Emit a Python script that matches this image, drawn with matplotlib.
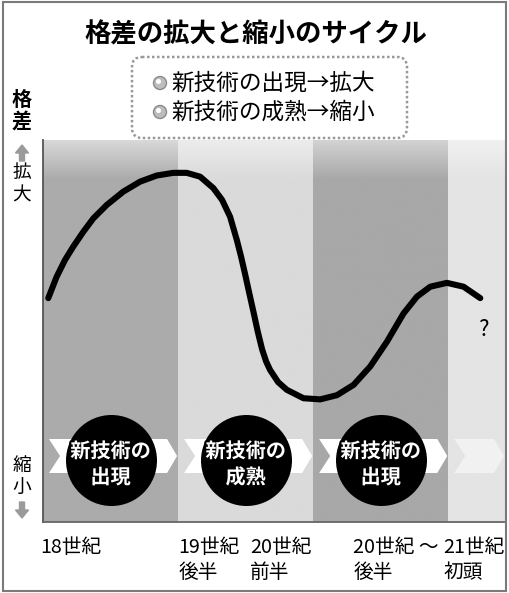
import numpy as np
import matplotlib
matplotlib.use("Agg")
import matplotlib.pyplot as plt
from matplotlib import patheffects
from matplotlib.patches import Polygon, FancyBboxPatch, Rectangle, Circle, FancyArrow

plt.rcParams['font.family'] = ['Noto Sans CJK JP', 'DejaVu Sans']

# datos
titulo = "格差の拡大と縮小のサイクル"
leyenda = ["新技術の出現→拡大", "新技術の成熟→縮小"]

# periodos (x en unidades de periodo)
bordes_periodos = [0, 1, 2, 3, 3.42]
colores_periodos = ['#ababab', '#dadada', '#a8a8a8', '#e4e4e4']
colores_arriba = ['#d8d8d8', '#ececec', '#d2d2d2', '#f0f0f0']
etiquetas_circulos = ["新技術の\n出現", "新技術の\n成熟", "新技術の\n出現"]

# curva del grado de desigualdad (0 = 縮小, 100 = 拡大)
curva_x = [0.039, 0.101, 0.163, 0.224, 0.299, 0.373, 0.472, 0.595, 0.719, 0.842,
           0.965, 1.064, 1.163, 1.261, 1.326, 1.385, 1.435, 1.466, 1.496, 1.527,
           1.558, 1.590, 1.622, 1.652, 1.681, 1.741, 1.805, 1.928, 2.052, 2.176,
           2.299, 2.422, 2.546, 2.669, 2.768, 2.867, 2.990, 3.113, 3.237]
curva_y = [58.6, 64.2, 68.6, 72.1, 76.0, 79.5, 83.0, 86.5, 89.1, 90.7,
           91.4, 91.4, 90.4, 87.4, 84.3, 79.9, 73.8, 69.5, 64.9, 59.9,
           55.0, 49.8, 45.2, 42.0, 39.8, 36.6, 34.6, 32.4, 32.1, 33.2,
           35.9, 40.7, 47.2, 54.6, 59.0, 61.6, 62.6, 61.6, 58.6]

# etiquetas del eje x
pos_etiquetas = [-0.02, 1.0, 1.533, 2.296, 2.963]
etiquetas_x = ["18世紀", "19世紀\n後半", "20世紀\n前半", "20世紀 ～\n後半", "21世紀\n初頭"]

W, H = 510, 593
fig = plt.figure(figsize=(W / 100, H / 100), dpi=100)
fig.patch.set_facecolor('white')

# area del grafico en pixeles
x0p, x1p, y0p, y1p = 43, 505, 140, 522
ax = fig.add_axes([x0p / W, 1 - y1p / H, (x1p - x0p) / W, (y1p - y0p) / H])
ax.set_xlim(bordes_periodos[0], bordes_periodos[-1])
ax.set_ylim(0, 100)
ax.set_xticks([])
ax.set_yticks([])
for s in ['top', 'right']:
    ax.spines[s].set_visible(False)
ax.spines['left'].set_color('#555555')
ax.spines['left'].set_linewidth(1.3)
ax.spines['bottom'].set_color('#666666')
ax.spines['bottom'].set_linewidth(1.3)

# bandas con degradado arriba
n = 200
for i in range(len(colores_periodos)):
    base = np.array(matplotlib.colors.to_rgb(colores_periodos[i]))
    top = np.array(matplotlib.colors.to_rgb(colores_arriba[i]))
    t = np.linspace(0, 1, n)
    w = np.clip((t - 0.90) / 0.10, 0, 1)[:, None]
    img = base * (1 - w) + top * w
    ax.imshow(img[:, None, :], extent=(bordes_periodos[i], bordes_periodos[i + 1], 0, 100),
              origin='lower', aspect='auto', zorder=0, interpolation='bilinear')

# flechas blancas (chevrones)
px_x = 1 / 135.0
px_y = 100 / 382.0
yc, hh = (y1p - 456) * px_y, 17 * px_y
for i in range(len(colores_periodos)):
    a, b = bordes_periodos[i], bordes_periodos[i + 1]
    cola = a + 6 * px_x
    muesca = cola + 11 * px_x
    punta = b - 1 * px_x
    cuerpo = punta - 10 * px_x
    verts = [(cola, yc + hh), (cuerpo, yc + hh), (punta, yc), (cuerpo, yc - hh),
             (cola, yc - hh), (muesca, yc)]
    alpha = 0.5 if i == 3 else 1.0
    ax.add_patch(Polygon(verts, closed=True, facecolor='white', edgecolor='none',
                         alpha=alpha, zorder=2))

# circulos negros
centros = [(bordes_periodos[i] + bordes_periodos[i + 1]) / 2 for i in range(3)]
yc_circ = (y1p - 460) * px_y
ax.scatter(centros, [yc_circ] * 3, s=(91 * 0.72) ** 2, color='black', zorder=3, linewidths=0)
for cx, txt in zip(centros, etiquetas_circulos):
    ax.text(cx, (y1p - 464) * px_y, txt, color='white', fontsize=14.5, fontweight='bold',
            ha='center', va='center', linespacing=1.3, zorder=4,
            path_effects=[patheffects.withStroke(linewidth=3, foreground='black')])

# curva
ax.plot(curva_x, curva_y, color='black', lw=4.4, solid_capstyle='round',
        solid_joinstyle='round', zorder=5)
ax.text(3.262, 50.5, "?", fontsize=16, ha='center', va='center', zorder=5)

# etiquetas del eje x
for xp, lab in zip(pos_etiquetas, etiquetas_x):
    ax.text(xp, -0.038, lab, transform=ax.get_xaxis_transform(), ha='left', va='top',
            fontsize=14.2, linespacing=1.3)

# capa superior en pixeles
ov = fig.add_axes([0, 0, 1, 1], zorder=10)
ov.set_xlim(0, W)
ov.set_ylim(H, 0)
ov.axis('off')
ov.patch.set_alpha(0)

ov.add_patch(Rectangle((3, 2), 503, 589, fill=False, edgecolor='#7a7a7a', lw=1.5))

ov.text(256, 35, titulo, fontsize=19, fontweight='bold', ha='center', va='center')

ov.add_patch(FancyBboxPatch((132, 57), 275, 81, boxstyle='round,pad=0,rounding_size=10',
                            facecolor='white', edgecolor='#999999', lw=1.8,
                            linestyle=(0, (1, 1))))
for k, txt in enumerate(leyenda):
    yy = 83 + 29 * k
    ov.add_patch(Circle((160, yy), 6.5, facecolor='#bdbdbd', edgecolor='#8a8a8a', lw=1))
    ov.add_patch(Circle((158.5, yy - 1.5), 2.5, facecolor='white', edgecolor='none'))
    ov.text(171, yy, txt, fontsize=16.3, ha='left', va='center')

# eje y
ov.text(22, 110, "格\n差", fontsize=14.5, fontweight='bold', ha='center', va='center',
        linespacing=1.05)
ov.add_patch(FancyArrow(22, 161, 0, -16, width=5, head_width=13, head_length=8,
                        length_includes_head=True, color='#9a9a9a'))
ov.text(22, 184, "拡\n大", fontsize=13.5, ha='center', va='center', linespacing=1.1)
ov.text(22, 477, "縮\n小", fontsize=13.5, ha='center', va='center', linespacing=1.1)
ov.add_patch(FancyArrow(22, 502, 0, 16, width=5, head_width=13, head_length=8,
                        length_includes_head=True, color='#9a9a9a'))

plt.savefig('out.png', dpi=100)
